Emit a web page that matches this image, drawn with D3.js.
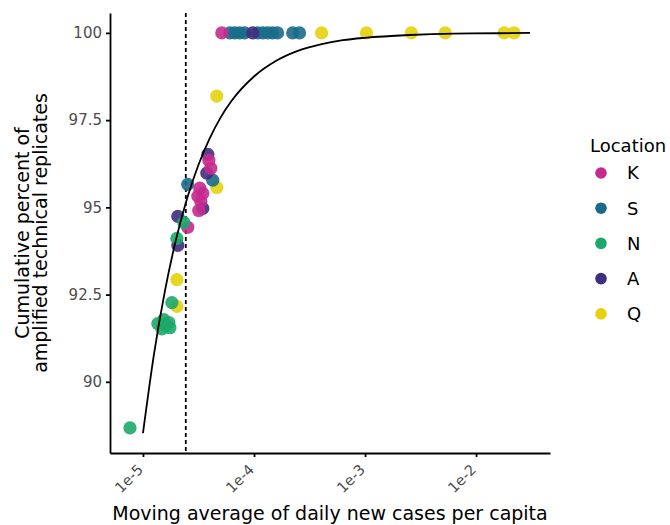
<!DOCTYPE html>
<html>
<head>
<meta charset="utf-8">
<script src="https://cdn.jsdelivr.net/npm/d3@7"></script>
<style>
  body { margin: 0; background: #fff; }
  text { font-family: "DejaVu Sans", sans-serif; }
</style>
</head>
<body>
<script>
// points per location: [cases per capita, cumulative percent]
var locations = ["K", "S", "N", "A", "Q"];

var kPoints = [
    [5.13e-5, 100], [3.92e-5, 96.35], [4.08e-5, 96.12], [3.25e-5, 95.55],
    [3.46e-5, 95.40], [3.12e-5, 95.32], [3.32e-5, 95.17], [3.18e-5, 94.91],
    [2.53e-5, 94.43]
];
var sPoints = [
    [6.05e-5, 100], [6.71e-5, 100], [7.44e-5, 100], [8.25e-5, 100],
    [1.08e-4, 100], [1.20e-4, 100], [1.33e-4, 100], [1.47e-4, 100],
    [1.63e-4, 100], [2.23e-4, 100], [2.57e-4, 100],
    [4.25e-5, 95.78], [2.53e-5, 95.66]
];
var nPoints = [
    [2.33e-5, 94.57], [2.02e-5, 94.11], [1.82e-5, 92.27],
    [1.36e-5, 91.67], [1.54e-5, 91.78], [1.71e-5, 91.70], [1.48e-5, 91.52],
    [1.75e-5, 91.55], [1.61e-5, 91.61], [7.64e-6, 88.68]
];
var aPoints = [
    [9.73e-5, 100], [3.84e-5, 96.52], [3.76e-5, 95.98], [3.46e-5, 94.97],
    [2.06e-5, 94.74], [2.06e-5, 93.91]
];
var qPoints = [
    [4.06e-4, 100], [1.03e-3, 100], [2.61e-3, 100], [5.28e-3, 100],
    [1.79e-2, 100], [2.20e-2, 100], [4.62e-5, 98.19], [4.62e-5, 95.57],
    [2.02e-5, 92.93], [2.02e-5, 92.16]
];

// fitted curve
var curveX = [1e-5, 1.259e-5, 1.585e-5, 1.995e-5, 2.512e-5, 3.162e-5, 3.981e-5,
    5.012e-5, 6.31e-5, 1e-4, 1.585e-4, 2.512e-4, 3.981e-4, 6.31e-4, 1e-3,
    2.512e-3, 6.31e-3, 1.585e-2, 3.06e-2];
var curveY = [88.53, 90.81, 92.64, 94.11, 95.28, 96.22, 96.97,
    97.58, 98.06, 98.75, 99.20, 99.49, 99.67, 99.79, 99.86,
    99.94, 99.98, 99.99, 100.0];

var threshold = 2.43e-5;

var xTicks = [1e-5, 1e-4, 1e-3, 1e-2];
var xTickLabels = ["1e-5", "1e-4", "1e-3", "1e-2"];
var yTicks = [90, 92.5, 95, 97.5, 100];
var yTickLabels = ["90", "92.5", "95", "97.5", "100"];

var colors = {K: "#c62a8e", S: "#1a6b8a", N: "#1ca86a", A: "#3f2e7e", Q: "#e6d10c"};

var pointsBy = {K: kPoints, S: sPoints, N: nPoints, A: aPoints, Q: qPoints};
var drawOrder = ["Q", "S", "A", "K", "N"];

var width = 670, height = 525;
var margin = {left: 110, right: 120, top: 13, bottom: 72};
var plotW = width - margin.left - margin.right;
var plotH = height - margin.top - margin.bottom;

var svg = d3.select("body").append("svg")
    .attr("width", width)
    .attr("height", height);

var g = svg.append("g")
    .attr("transform", "translate(" + margin.left + "," + margin.top + ")");

var xScale = d3.scaleLog()
    .domain([Math.pow(10, -5.297), Math.pow(10, -1.334)])
    .range([0, plotW]);

var yScale = d3.scaleLinear()
    .domain([87.96, 100.57])
    .range([plotH, 0]);

// dashed threshold line
g.append("line")
    .attr("x1", xScale(threshold))
    .attr("x2", xScale(threshold))
    .attr("y1", 0)
    .attr("y2", plotH)
    .attr("stroke", "#000")
    .attr("stroke-width", 1.8)
    .attr("stroke-dasharray", "4,3");

// points
drawOrder.forEach(function(loc){
    g.append("g")
        .selectAll("circle")
        .data(pointsBy[loc])
        .enter()
        .append("circle")
        .attr("cx", function(d){ return xScale(d[0]); })
        .attr("cy", function(d){ return yScale(d[1]); })
        .attr("r", 6.6)
        .attr("fill", colors[loc])
        .attr("fill-opacity", 0.9);
});

// fitted curve
var line = d3.line()
    .x(function(d){ return xScale(d[0]); })
    .y(function(d){ return yScale(d[1]); })
    .curve(d3.curveMonotoneX);

g.append("path")
    .datum(d3.zip(curveX, curveY))
    .attr("d", line)
    .attr("fill", "none")
    .attr("stroke", "#000")
    .attr("stroke-width", 1.8);

// axes
var xAxis = g.append("g")
    .attr("transform", "translate(0," + plotH + ")")
    .call(d3.axisBottom(xScale)
        .tickValues(xTicks)
        .tickFormat(function(d, i){ return xTickLabels[i]; })
        .tickSize(4)
        .tickSizeOuter(0));

xAxis.selectAll("text")
    .attr("x", 0)
    .attr("y", 0)
    .attr("dy", "0.35em")
    .attr("text-anchor", "end")
    .attr("transform", "translate(-3,14) rotate(-45)")
    .attr("fill", "#4d4d4d")
    .style("font-size", "14.5px");

var yAxis = g.append("g")
    .call(d3.axisLeft(yScale)
        .tickValues(yTicks)
        .tickFormat(function(d, i){ return yTickLabels[i]; })
        .tickSize(4)
        .tickSizeOuter(0));

yAxis.selectAll("text")
    .attr("fill", "#4d4d4d")
    .attr("x", -8)
    .style("font-size", "15px");

[xAxis, yAxis].forEach(function(a){
    a.select(".domain").attr("stroke", "#000").attr("stroke-width", 1.8);
    a.selectAll(".tick line").attr("stroke", "#000").attr("stroke-width", 1.8);
});

// axis titles
svg.append("text")
    .text("Moving average of daily new cases per capita")
    .attr("x", margin.left + plotW / 2)
    .attr("y", 520)
    .attr("text-anchor", "middle")
    .style("font-size", "19px");

var yTitle = svg.append("text")
    .attr("text-anchor", "middle")
    .attr("transform", "translate(29,233) rotate(-90)")
    .style("font-size", "19px");
yTitle.append("tspan").attr("x", 0).attr("y", 0).text("Cumulative percent of");
yTitle.append("tspan").attr("x", 0).attr("y", 18).text("amplified technical replicates");

// legend
var legend = svg.append("g")
    .attr("transform", "translate(590,0)");

legend.append("text")
    .text("Location")
    .attr("x", 0)
    .attr("y", 152)
    .style("font-size", "18px");

legend.selectAll("g.key")
    .data(locations)
    .enter()
    .append("g")
    .attr("class", "key")
    .attr("transform", function(d, i){ return "translate(0," + (173 + i * 35.2) + ")"; })
    .each(function(d){
        var k = d3.select(this);
        k.append("circle")
            .attr("cx", 11)
            .attr("cy", 0)
            .attr("r", 5.8)
            .attr("fill", colors[d]);
        k.append("text")
            .text(d)
            .attr("x", 37)
            .attr("y", 0)
            .attr("dy", "0.36em")
            .style("font-size", "18px");
    });
</script>
</body>
</html>
